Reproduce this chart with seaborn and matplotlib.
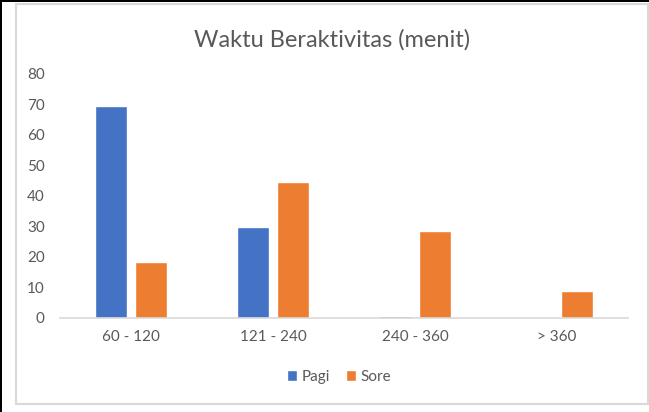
import numpy as np
import pandas as pd
import matplotlib
matplotlib.use("Agg")
import matplotlib.pyplot as plt
from matplotlib.patches import Rectangle
import seaborn as sns

# data
categories = ["60 - 120", "121 - 240", "240 - 360", "> 360"]
pagi = [69.4, 29.7, 0.6, 0.0]
sore = [18.4, 44.4, 28.3, 8.6]
series = ["Pagi", "Sore"]
colors = ["#4472C4", "#ED7D31"]

df = pd.DataFrame({
    "kategori": categories * 2,
    "nilai": pagi + sore,
    "waktu": [series[0]] * len(categories) + [series[1]] * len(categories),
})

sns.set_style("white")
plt.rcParams["font.family"] = ["Lato", "DejaVu Sans"]
txt = "#595959"

W, H = 649, 412
fig = plt.figure(figsize=(W / 100, H / 100), dpi=100)

# frame: black edge lines of the screenshot, grey chart border
fig.patches.append(Rectangle((0, 0), 1, 1, transform=fig.transFigure,
                             facecolor="white", edgecolor="none", zorder=-3))
fig.patches.append(Rectangle((15.5 / W, 1 - 403.5 / H), 632 / W, 400 / H,
                             transform=fig.transFigure, facecolor="none",
                             edgecolor="#D9D9D9", linewidth=1.5, zorder=-1))
fig.patches.append(Rectangle((0, 1 - 2.2 / H), 1, 2.2 / H, transform=fig.transFigure,
                             facecolor="black", edgecolor="none", zorder=5))
fig.patches.append(Rectangle((0, 0), 2.2 / W, 1, transform=fig.transFigure,
                             facecolor="black", edgecolor="none", zorder=5))

ax = fig.add_axes([60 / W, 1 - 317.7 / H, 568 / W, 244 / H])
sns.barplot(data=df, x="kategori", y="nilai", hue="waktu", order=categories,
            hue_order=series, palette=colors, width=0.565, gap=0.22,
            saturation=1, ax=ax, legend=True)

ax.set_xlim(-0.5, 3.5)
ax.set_ylim(0, 80)
ax.set_yticks(range(0, 81, 10))
ax.set_xlabel("")
ax.set_ylabel("")
sns.despine(ax=ax, left=True, top=True, right=True)
ax.spines["bottom"].set_color("#D9D9D9")
ax.spines["bottom"].set_linewidth(1.2)
ax.tick_params(axis="both", length=0, labelsize=11, colors=txt)
ax.tick_params(axis="y", pad=11)
ax.tick_params(axis="x", pad=9)
ax.patch.set_alpha(0)

fig.text(332 / W, 1 - 40 / H, "Waktu Beraktivitas (menit)", ha="center",
         va="center", fontsize=17, color=txt)

ax.legend(loc="center", bbox_to_anchor=(0.5 - 5 / 568, (317.7 - 377) / 244),
          ncol=2, frameon=False, handlelength=0.7, handleheight=0.7,
          handletextpad=0.3, columnspacing=1.0, fontsize=11, labelcolor=txt)

fig.savefig("out.png", dpi=100)
